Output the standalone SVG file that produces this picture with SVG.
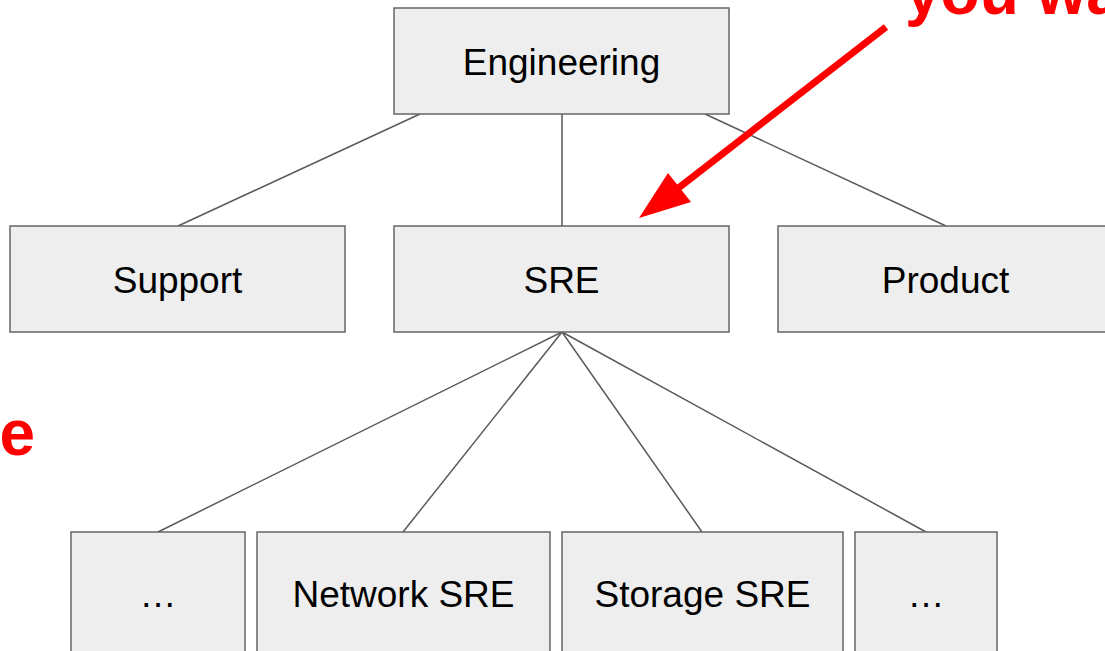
<svg xmlns="http://www.w3.org/2000/svg" width="1105" height="651" viewBox="0 0 1105 651">
<style>
.box{fill:#eeeeee;stroke:#666666;stroke-width:1.5}
.lbl{font-family:"Liberation Sans",Arial,sans-serif;font-size:37px;fill:#000;text-anchor:middle}
.conn{stroke:#595959;stroke-width:1.5;fill:none}
.red{font-family:"Liberation Sans",Arial,sans-serif;font-size:64px;font-weight:bold;fill:#ff0000}
</style>
<rect width="1105" height="651" fill="#ffffff"/>
<g id="connectors">
<line class="conn" x1="420" y1="114" x2="178" y2="226"/>
<line class="conn" x1="562" y1="114" x2="562" y2="226"/>
<line class="conn" x1="705" y1="114" x2="946" y2="226"/>
<line class="conn" x1="562" y1="332" x2="158" y2="532"/>
<line class="conn" x1="562" y1="332" x2="403" y2="532"/>
<line class="conn" x1="562" y1="332" x2="702" y2="532"/>
<line class="conn" x1="562" y1="332" x2="926" y2="532"/>
</g>
<g id="engineering"><rect class="box" x="394" y="8" width="335" height="106"/><text class="lbl" x="561.5" y="75">Engineering</text></g>
<g id="support"><rect class="box" x="10" y="226" width="335" height="106"/><text class="lbl" x="177.5" y="293">Support</text></g>
<g id="sre"><rect class="box" x="394" y="226" width="335" height="106"/><text class="lbl" x="561.5" y="293">SRE</text></g>
<g id="product"><rect class="box" x="778" y="226" width="335" height="106"/><text class="lbl" x="945.5" y="293">Product</text></g>
<g id="dots1"><rect class="box" x="71" y="532" width="174" height="130"/><text class="lbl" x="158" y="607">…</text></g>
<g id="network-sre"><rect class="box" x="257" y="532" width="293" height="130"/><text class="lbl" x="403.5" y="607">Network SRE</text></g>
<g id="storage-sre"><rect class="box" x="562" y="532" width="281" height="130"/><text class="lbl" x="702.5" y="607">Storage SRE</text></g>
<g id="dots2"><rect class="box" x="855" y="532" width="142" height="130"/><text class="lbl" x="926" y="607">…</text></g>
<g id="annotation">
<line x1="886" y1="27" x2="672" y2="193" stroke="#ff0000" stroke-width="7"/>
<polygon points="639,218 668,173 691,202" fill="#ff0000"/>
<text class="red" x="905" y="14">you wa</text>
<text class="red" x="35" y="455" text-anchor="end">re</text>
</g>
</svg>
